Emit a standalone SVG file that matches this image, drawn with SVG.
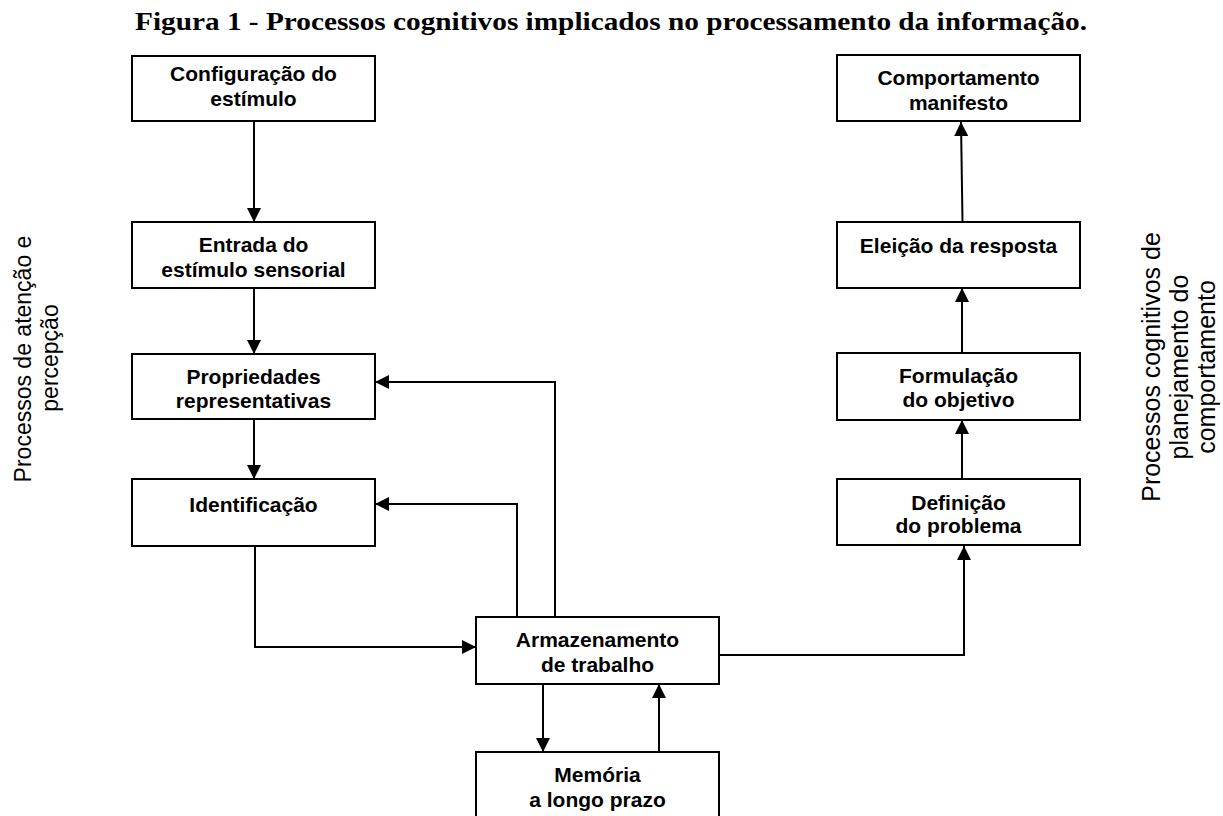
<svg xmlns="http://www.w3.org/2000/svg" width="1223" height="816" viewBox="0 0 1223 816">
<style>
.box{fill:#fff;stroke:#000;stroke-width:2}
.lbl{font-family:"Liberation Sans",Arial,sans-serif;font-weight:bold;font-size:21px;text-anchor:middle;fill:#000}
.side{font-family:"Liberation Sans",Arial,sans-serif;font-size:23px;text-anchor:middle;fill:#000}
.side2{font-family:"Liberation Sans",Arial,sans-serif;font-size:25px;text-anchor:middle;fill:#000}
.con{fill:none;stroke:#000;stroke-width:2}
</style>
<defs>
<marker id="ah" viewBox="0 0 10 10" refX="10" refY="5" markerWidth="16" markerHeight="14" markerUnits="userSpaceOnUse" orient="auto">
<path d="M0,0 L10,5 L0,10 z" fill="#000"/>
</marker>
</defs>
<rect width="1223" height="816" fill="#fff"/>
<text x="611" y="30" font-family="'Liberation Serif','Times New Roman',serif" font-weight="bold" font-size="26" text-anchor="middle" textLength="952" lengthAdjust="spacingAndGlyphs">Figura 1 - Processos cognitivos implicados no processamento da informação.</text>

<g id="side-left">
<text class="side" transform="translate(31,359) rotate(-90)">Processos de atenção e</text>
<text class="side" transform="translate(58,358) rotate(-90)">percepção</text>
</g>
<g id="side-right">
<text class="side2" transform="translate(1160,367) rotate(-90)">Processos cognitivos de</text>
<text class="side2" transform="translate(1188,367) rotate(-90)">planejamento do</text>
<text class="side2" transform="translate(1215,367) rotate(-90)">comportamento</text>
</g>

<g id="connectors">
<path class="con" d="M254,121 V222" marker-end="url(#ah)"/>
<path class="con" d="M254,288 V354" marker-end="url(#ah)"/>
<path class="con" d="M254,419 V479" marker-end="url(#ah)"/>
<path class="con" d="M255,546 V647 H476" marker-end="url(#ah)"/>
<path class="con" d="M517,617 V504 H375" marker-end="url(#ah)"/>
<path class="con" d="M555,617 V382 H375" marker-end="url(#ah)"/>
<path class="con" d="M543,684 V752" marker-end="url(#ah)"/>
<path class="con" d="M659,752 V684" marker-end="url(#ah)"/>
<path class="con" d="M719,655 H964 V546" marker-end="url(#ah)"/>
<path class="con" d="M962,479 V420" marker-end="url(#ah)"/>
<path class="con" d="M962,353 V288" marker-end="url(#ah)"/>
<path class="con" d="M962.5,222 L961,122" marker-end="url(#ah)"/>
</g>

<g id="n-config">
<rect class="box" x="132" y="56" width="243" height="65"/>
<text class="lbl" x="253.5" y="81">Configuração do</text>
<text class="lbl" x="253.5" y="106">estímulo</text>
</g>
<g id="n-entrada">
<rect class="box" x="132" y="222" width="243" height="66"/>
<text class="lbl" x="253.5" y="252">Entrada do</text>
<text class="lbl" x="253.5" y="277">estímulo sensorial</text>
</g>
<g id="n-propriedades">
<rect class="box" x="132" y="354" width="243" height="65"/>
<text class="lbl" x="253.5" y="384">Propriedades</text>
<text class="lbl" x="253.5" y="408">representativas</text>
</g>
<g id="n-identificacao">
<rect class="box" x="132" y="479" width="243" height="67"/>
<text class="lbl" x="253.5" y="512">Identificação</text>
</g>
<g id="n-armazenamento">
<rect class="box" x="476" y="617" width="243" height="67"/>
<text class="lbl" x="597.5" y="647">Armazenamento</text>
<text class="lbl" x="597.5" y="672">de trabalho</text>
</g>
<g id="n-memoria">
<rect class="box" x="476" y="752" width="243" height="80"/>
<text class="lbl" x="597.5" y="782">Memória</text>
<text class="lbl" x="597.5" y="807">a longo prazo</text>
</g>
<g id="n-comportamento">
<rect class="box" x="837" y="55" width="243" height="66"/>
<text class="lbl" x="958.5" y="85">Comportamento</text>
<text class="lbl" x="958.5" y="110">manifesto</text>
</g>
<g id="n-eleicao">
<rect class="box" x="837" y="222" width="243" height="66"/>
<text class="lbl" x="958.5" y="253">Eleição da resposta</text>
</g>
<g id="n-formulacao">
<rect class="box" x="837" y="353" width="243" height="67"/>
<text class="lbl" x="958.5" y="383">Formulação</text>
<text class="lbl" x="958.5" y="407">do objetivo</text>
</g>
<g id="n-definicao">
<rect class="box" x="837" y="479" width="243" height="66"/>
<text class="lbl" x="958.5" y="510">Definição</text>
<text class="lbl" x="958.5" y="533">do problema</text>
</g>
</svg>
